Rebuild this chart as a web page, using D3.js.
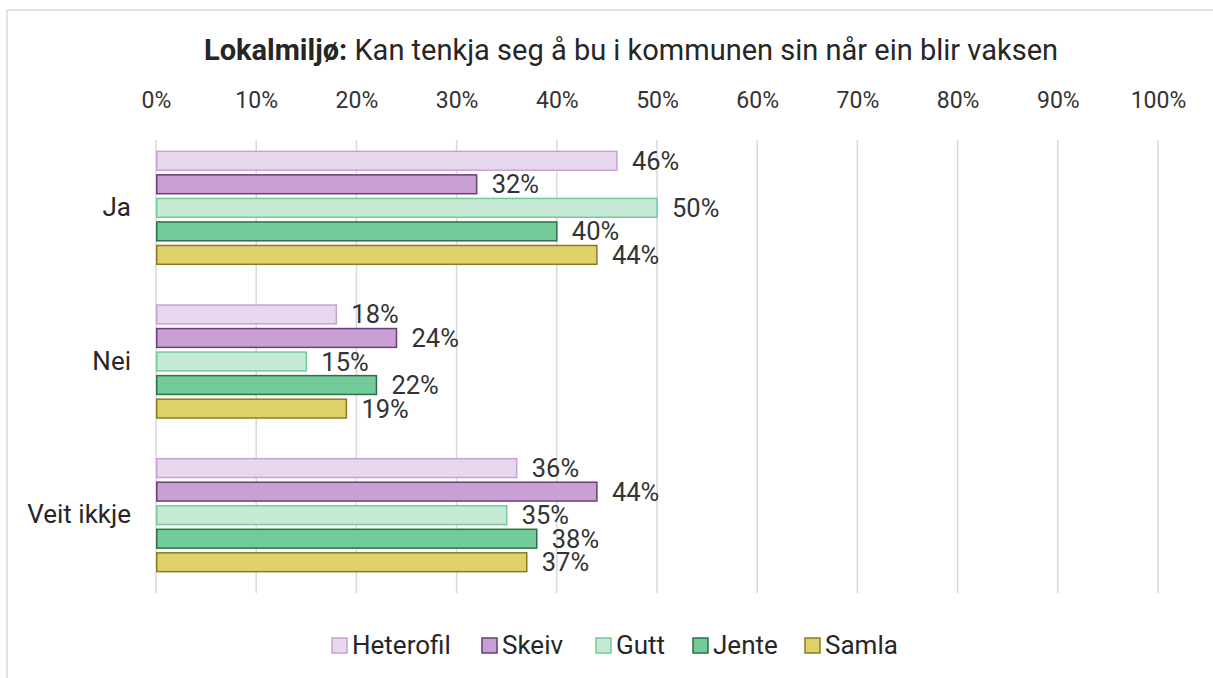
<!DOCTYPE html>
<html><head><meta charset="utf-8">
<script src="https://cdn.jsdelivr.net/npm/d3@7"></script>
<style>body{margin:0;background:#fff;font-family:Roboto,"Noto Sans",sans-serif;}</style>
</head><body>
<svg id="c" width="1213" height="678"></svg>
<script>
const categories = ["Ja", "Nei", "Veit ikkje"];
const seriesNames = ["Heterofil", "Skeiv", "Gutt", "Jente", "Samla"];
const heterofil = [46, 18, 36];
const skeiv = [32, 24, 44];
const gutt = [50, 15, 35];
const jente = [40, 22, 38];
const samla = [44, 19, 37];
const xTicks = [0,10,20,30,40,50,60,70,80,90,100];
const fills = ["#e8d8ee", "#c9a0d4", "#c6ead6", "#72cb98", "#e0d26a"];
const strokes = ["#c9a0d6", "#6e3a7e", "#72cc98", "#2d7048", "#8a7b22"];
const values = [heterofil, skeiv, gutt, jente, samla];

const svg = d3.select("#c");
svg.append("rect").attr("x",7).attr("y",10).attr("width",1220).attr("height",680)
  .attr("fill","#fff").attr("stroke","#d9d9d9").attr("stroke-width",1.5);

const x = d3.scaleLinear().domain([0,100]).range([156,1158]);
const y = d3.scaleBand().domain(categories).range([131,592]).paddingInner(0).paddingOuter(0);
const yi = d3.scaleBand().domain(seriesNames).range([18, y.bandwidth()-18]).paddingInner(0.2).paddingOuter(0.1);

// title
const t = svg.append("text").attr("x",631).attr("y",60).attr("text-anchor","middle")
  .attr("font-size",29).attr("fill","#262626");
t.append("tspan").attr("font-weight","bold").text("Lokalmiljø:");
t.append("tspan").text(" Kan tenkja seg å bu i kommunen sin når ein blir vaksen");

// grid
svg.append("g").selectAll("line").data(xTicks).join("line")
  .attr("x1",d=>x(d)).attr("x2",d=>x(d)).attr("y1",140).attr("y2",593)
  .attr("stroke","#d9d9d9").attr("stroke-width",1.5);

// top axis labels
const ax = svg.append("g").attr("transform","translate(0,108)")
  .call(d3.axisTop(x).tickValues(xTicks).tickFormat(d=>d+"%").tickSize(0).tickPadding(0));
ax.select(".domain").remove();
ax.selectAll("text").attr("font-size",23).attr("fill","#333").attr("font-family","Roboto");

// category labels
const ay = svg.append("g").attr("transform","translate(131,0)")
  .call(d3.axisLeft(y).tickSize(0).tickPadding(0));
ay.select(".domain").remove();
ay.selectAll("text").attr("font-size",26).attr("fill","#262626").attr("font-family","Roboto");

// bars
seriesNames.forEach((s,si)=>{
  const g = svg.append("g");
  g.selectAll("rect").data(categories).join("rect")
    .attr("x",x(0)+0.75).attr("y",(c)=>y(c)+yi(s))
    .attr("width",(c,i)=>x(values[si][i])-x(0)-0.75).attr("height",yi.bandwidth())
    .attr("fill",fills[si]).attr("stroke",strokes[si]).attr("stroke-width",1.5);
  g.selectAll("text").data(categories).join("text")
    .attr("x",(c,i)=>x(values[si][i])+15).attr("y",(c)=>y(c)+yi(s)+yi.bandwidth()/2+9)
    .attr("font-size",25.5).attr("fill","#333").text((c,i)=>values[si][i]+"%");
});

// legend
const legX = [332, 482, 596, 693, 805];
const leg = svg.append("g");
seriesNames.forEach((s,i)=>{
  leg.append("rect").attr("x",legX[i]).attr("y",638).attr("width",15).attr("height",15)
    .attr("fill",fills[i]).attr("stroke",strokes[i]).attr("stroke-width",1.5);
  leg.append("text").attr("x",legX[i]+20).attr("y",654).attr("font-size",26)
    .attr("fill","#262626").text(s);
});
</script>
</body></html>
